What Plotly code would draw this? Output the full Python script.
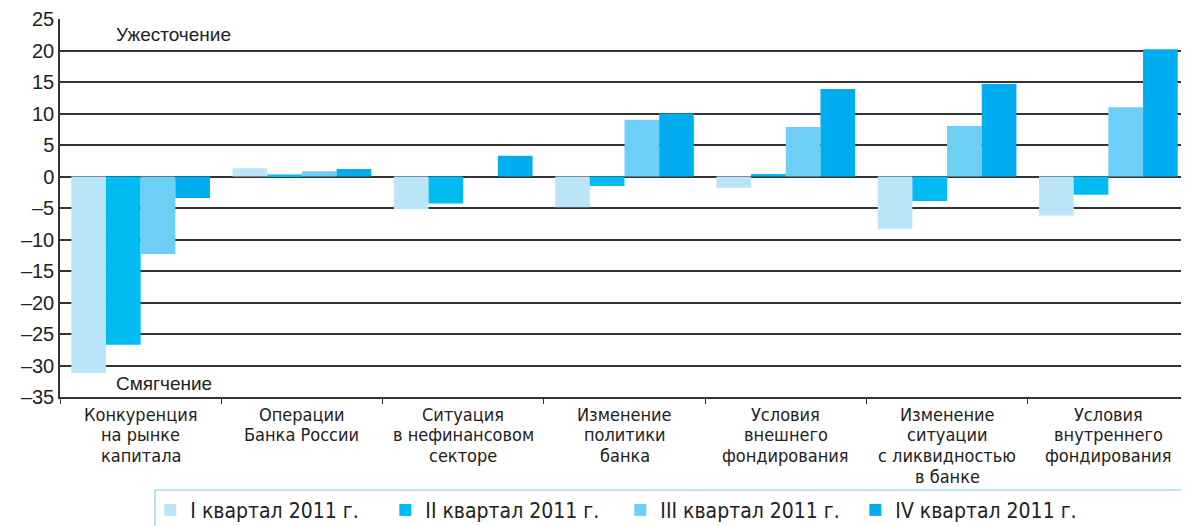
import plotly.graph_objects as go

categories = [
    "Конкуренция<br>на рынке<br>капитала",
    "Операции<br>Банка России",
    "Ситуация<br>в нефинансовом<br>секторе",
    "Изменение<br>политики<br>банка",
    "Условия<br>внешнего<br>фондирования",
    "Изменение<br>ситуации<br>с ликвидностью<br>в банке",
    "Условия<br>внутреннего<br>фондирования",
]
series_names = ["I квартал 2011 г.", "II квартал 2011 г.", "III квартал 2011 г.", "IV квартал 2011 г."]
q1 = [-31.2, 1.3, -5.2, -4.9, -1.8, -8.3, -6.2]
q2 = [-26.7, 0.3, -4.3, -1.5, 0.4, -3.9, -2.9]
q3 = [-12.3, 0.85, 0.0, 9.0, 7.85, 8.0, 11.0]
q4 = [-3.4, 1.2, 3.3, 10.0, 13.9, 14.7, 20.2]
colors = ["#bae5f8", "#00bcf2", "#6dcff6", "#00aeef"]
yticks = [25, 20, 15, 10, 5, 0, -5, -10, -15, -20, -25, -30, -35]
yticklabels = ["25", "20", "15", "10", "5", "0", "–5", "–10", "–15", "–20", "–25", "–30", "–35"]

narrow = "DejaVu Sans Condensed, Liberation Sans Narrow, sans-serif"

fig = go.Figure()
for name, vals, c in zip(series_names, [q1, q2, q3, q4], colors):
    fig.add_trace(go.Bar(x=categories, y=vals, name=name, marker_color=c,
                         marker_line_width=0))

fig.add_annotation(text="Ужесточение", x=0.048, y=22.6, xref="paper", yref="y",
                   xanchor="left", showarrow=False,
                   font=dict(family="Liberation Sans, Arial", size=19, color="#222"))
fig.add_annotation(text="Смягчение", x=0.048, y=-32.8, xref="paper", yref="y",
                   xanchor="left", showarrow=False,
                   font=dict(family="Liberation Sans, Arial", size=19, color="#222"))

# category labels line by line (tighter line spacing than tick labels allow)
for cat in categories:
    for i, line in enumerate(cat.split("<br>")):
        fig.add_annotation(text=line, x=cat, xref="x", y=0, yref="paper",
                           yanchor="middle", yshift=-17 - 20.7 * i, showarrow=False,
                           font=dict(family=narrow, size=18, color="#222"))

# legend frame runs off the right and bottom edges
fig.add_shape(type="rect", xref="paper", yref="paper",
              x0=0.0841, x1=1.02, y0=-0.246, y1=-0.5,
              line=dict(color="#7cc6e6", width=1), fillcolor="rgba(0,0,0,0)")

# page body has an 8px margin, so the figure is made slightly smaller
fig.update_layout(
    width=1181, height=518,
    margin=dict(l=52, r=0, t=11, b=129),
    plot_bgcolor="white", paper_bgcolor="white",
    barmode="group", bargap=0.14, bargroupgap=0,
    font=dict(family="Liberation Sans, Arial", color="#222"),
    legend=dict(orientation="h", x=0.08, y=0.07, yref="container",
                xanchor="left", yanchor="top", borderwidth=0,
                bgcolor="rgba(0,0,0,0)",
                font=dict(family=narrow, size=21, color="#222"),
                itemwidth=30, traceorder="normal", entrywidth=190),
    showlegend=True,
)
fig.update_yaxes(range=[-35, 25], tickvals=yticks, ticktext=yticklabels,
                 showgrid=True, gridcolor="#333", gridwidth=1.5,
                 zeroline=True, zerolinecolor="#333", zerolinewidth=1.5,
                 showline=True, linecolor="#333", linewidth=1.5,
                 ticks="", automargin=False, tickfont=dict(size=20, color="#222"))
fig.update_xaxes(showline=True, linecolor="#333", linewidth=1.5, automargin=False,
                 ticks="outside", tickson="boundaries", ticklen=5, tickcolor="#333",
                 showticklabels=False)

fig.write_html("out.html")
